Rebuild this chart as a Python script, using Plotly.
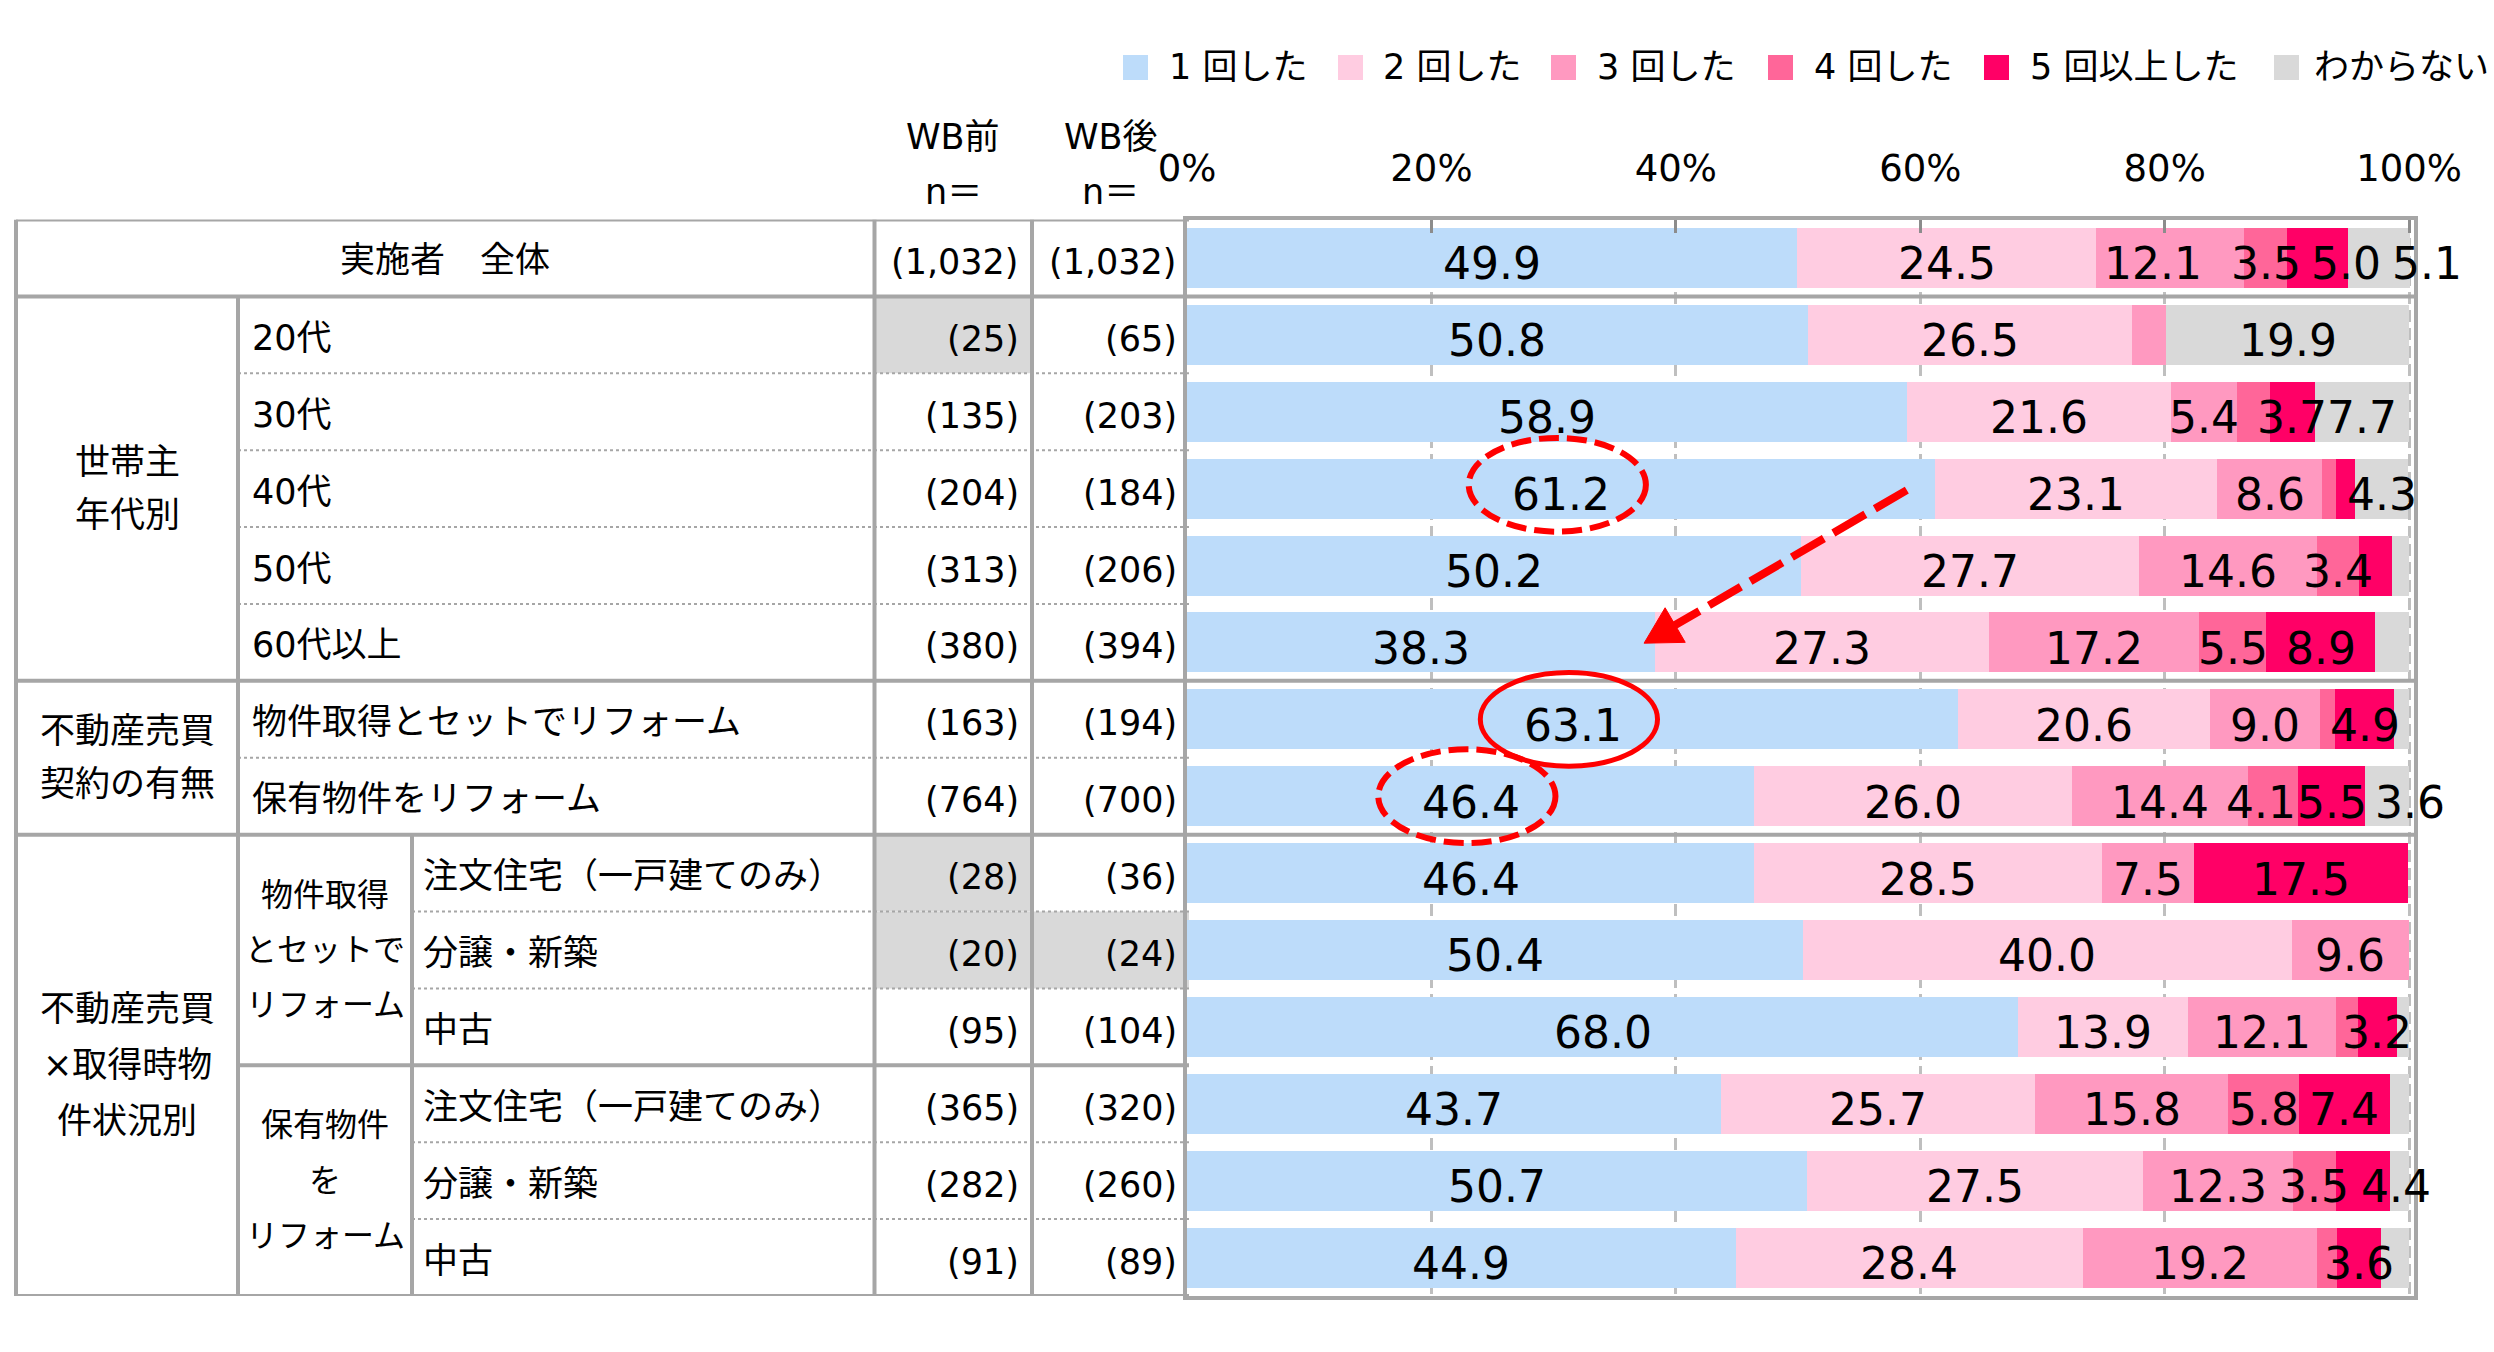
import math
import plotly.graph_objects as go

# ---------------- data ----------------
row_labels = ["実施者　全体", "20代", "30代", "40代", "50代", "60代以上",
              "物件取得とセットでリフォーム", "保有物件をリフォーム",
              "注文住宅（一戸建てのみ）", "分譲・新築", "中古",
              "注文住宅（一戸建てのみ）", "分譲・新築", "中古"]
n_before = ["(1,032)", "(25)", "(135)", "(204)", "(313)", "(380)", "(163)", "(764)",
            "(28)", "(20)", "(95)", "(365)", "(282)", "(91)"]
n_after = ["(1,032)", "(65)", "(203)", "(184)", "(206)", "(394)", "(194)", "(700)",
           "(36)", "(24)", "(104)", "(320)", "(260)", "(89)"]
small_n_before = [1, 8, 9]
small_n_after = [9]

series_names = ["1 回した", "2 回した", "3 回した", "4 回した", "5 回以上した", "わからない"]
once = [49.9, 50.8, 58.9, 61.2, 50.2, 38.3, 63.1, 46.4, 46.4, 50.4, 68.0, 43.7, 50.7, 44.9]
twice = [24.5, 26.5, 21.6, 23.1, 27.7, 27.3, 20.6, 26.0, 28.5, 40.0, 13.9, 25.7, 27.5, 28.4]
three = [12.1, 2.8, 5.4, 8.6, 14.6, 17.2, 9.0, 14.4, 7.5, 9.6, 12.1, 15.8, 12.3, 19.2]
four = [3.5, 0.0, 2.7, 1.1, 3.4, 5.5, 1.2, 4.1, 0.0, 0.0, 1.8, 5.8, 3.5, 1.6]
five_plus = [5.0, 0.0, 3.7, 1.6, 2.7, 8.9, 4.9, 5.5, 17.5, 0.0, 3.2, 7.4, 4.4, 3.6]
unknown = [5.1, 19.9, 7.7, 4.3, 1.4, 2.8, 1.2, 3.6, 0.0, 0.0, 1.0, 1.6, 1.6, 2.3]
series_values = [once, twice, three, four, five_plus, unknown]
tick_vals = [0, 20, 40, 60, 80, 100]
tick_text = ["0%", "20%", "40%", "60%", "80%", "100%"]

group_col1 = [(["世帯主", "年代別"], 1, 5), (["不動産売買", "契約の有無"], 6, 7),
              (["不動産売買", "×取得時物", "件状況別"], 8, 13)]
group_col2 = [(["物件取得", "とセットで", "リフォーム"], 8, 10), (["保有物件", "を", "リフォーム"], 11, 13)]

# ---------------- styles / layout constants ----------------
W, H = 2494, 1352
colors = ["#BDDCFA", "#FFCCE1", "#FF99C0", "#FF6699", "#FF0066", "#D9D9D9"]
FONT = "DejaVu Sans, Noto Sans CJK JP, sans-serif"
LINE = "#A6A6A6"
PX0, PX1 = 1187, 2414          # plot area in pixels (x)
PY0, PY1 = 219.5, 1296         # plot area in pixels (y)
XMAX = 100.4
NROWS = len(row_labels)
COL_X = [16, 238, 412, 874.5, 1032, 1189]
# pixel shifts for a few value labels (row, series) that sit off-centre in the original
label_shift_px = {(0, 2): -17, (0, 4): 29, (0, 5): 48, (7, 5): 23, (12, 4): 33, (7, 3): -12}


def X(px):
    return px / W


def Y(py):
    return 1 - py / H


def px_x(v):
    return PX0 + v * (PX1 - PX0) / XMAX


def px_y(r):
    return PY0 + (r + 0.5) * (PY1 - PY0) / NROWS


rows = list(range(NROWS))
fig = go.Figure()
for name, vals, col in zip(series_names, series_values, colors):
    fig.add_trace(go.Bar(y=rows, x=vals, orientation="h", name=name, width=0.78,
                         marker=dict(color=col, line=dict(width=0)),
                         hoverinfo="skip", showlegend=False))

shapes = []
ann = []

# gray cells for small sample sizes
for r in small_n_before:
    shapes.append(dict(type="rect", xref="paper", yref="y", x0=X(COL_X[3]), x1=X(COL_X[4]),
                       y0=r - 0.5, y1=r + 0.5, fillcolor="#D9D9D9", line=dict(width=0), layer="below"))
for r in small_n_after:
    shapes.append(dict(type="rect", xref="paper", yref="y", x0=X(COL_X[4]), x1=X(COL_X[5]),
                       y0=r - 0.5, y1=r + 0.5, fillcolor="#D9D9D9", line=dict(width=0), layer="below"))


def hline(k, xa, xb, width=4, dash="solid"):
    shapes.append(dict(type="line", xref="paper", yref="y", x0=X(xa), x1=X(xb), y0=k - 0.5, y1=k - 0.5,
                       line=dict(color=LINE, width=width, dash=dash), layer="above"))


def vline(px, ka, kb):
    shapes.append(dict(type="line", xref="paper", yref="y", x0=X(px), x1=X(px), y0=ka - 0.5, y1=kb - 0.5,
                       line=dict(color=LINE, width=4), layer="above"))


# dotted separators
for k in [2, 3, 4, 5, 7]:
    hline(k, COL_X[1], COL_X[5], width=2, dash="dot")
for k in [9, 10, 12, 13]:
    hline(k, COL_X[2], COL_X[5], width=2, dash="dot")
# solid group lines
hline(0, COL_X[0], COL_X[5])
hline(14, COL_X[0], COL_X[5])
for k in [1, 6, 8]:
    hline(k, COL_X[0], PX1)
hline(11, COL_X[1], COL_X[5])
vline(COL_X[0], 0, 14)
vline(COL_X[1], 1, 14)
vline(COL_X[2], 8, 14)
vline(COL_X[3], 0, 14)
vline(COL_X[4], 0, 14)

TF = dict(family=FONT, size=35, color="black")
TF2 = dict(family=FONT, size=32, color="black")

# row labels and n
for r, lab in enumerate(row_labels):
    if r == 0:
        ann.append(dict(x=X((COL_X[0] + COL_X[3]) / 2), y=r, xref="paper", yref="y", text=lab,
                        showarrow=False, xanchor="center", yanchor="middle", yshift=-2, font=TF))
    else:
        lx = 250 if r <= 7 else 421
        ann.append(dict(x=X(lx), y=r, xref="paper", yref="y", text=lab,
                        showarrow=False, xanchor="left", yanchor="middle", yshift=-3, font=TF))
    ann.append(dict(x=X(1021), y=r, xref="paper", yref="y", text=n_before[r],
                    showarrow=False, xanchor="right", yanchor="middle", yshift=-4, font=TF))
    ann.append(dict(x=X(1179), y=r, xref="paper", yref="y", text=n_after[r],
                    showarrow=False, xanchor="right", yanchor="middle", yshift=-4, font=TF))

for lines, a, b in group_col1:
    c = (a + b) / 2
    step = 0.69 if len(lines) == 2 else 0.73
    for i, t in enumerate(lines):
        ann.append(dict(x=X((COL_X[0] + COL_X[1]) / 2), y=c + (i - (len(lines) - 1) / 2) * step,
                        xref="paper", yref="y", text=t, showarrow=False,
                        xanchor="center", yanchor="middle", font=TF))
for lines, a, b in group_col2:
    c = (a + b) / 2
    for i, t in enumerate(lines):
        ann.append(dict(x=X((COL_X[1] + COL_X[2]) / 2), y=c + (i - 1) * 0.72,
                        xref="paper", yref="y", text=t, showarrow=False,
                        xanchor="center", yanchor="middle", font=TF2))

# header
for cx, t in [((COL_X[3] + COL_X[4]) / 2, "WB前"), ((COL_X[4] + COL_X[5]) / 2, "WB後")]:
    ann.append(dict(x=X(cx), y=Y(137), xref="paper", yref="paper", text=t, showarrow=False,
                    xanchor="center", yanchor="middle", font=TF))
    ann.append(dict(x=X(cx), y=Y(192), xref="paper", yref="paper", text="n＝", showarrow=False,
                    xanchor="center", yanchor="middle", font=TF))

# bar value labels
for r in rows:
    cum = 0.0
    for s, vals in enumerate(series_values):
        v = vals[r]
        if v >= 3.0:
            ann.append(dict(x=cum + v / 2, y=r, xref="x", yref="y",
                            text=f"{v:.1f}", showarrow=False, xanchor="center", yanchor="middle",
                            xshift=label_shift_px.get((r, s), 0), yshift=-6,
                            font=dict(family=FONT, size=44, color="black")))
        cum += v

# custom legend
leg_text_x = [1167, 1381, 1595, 1812, 2028, 2312]
leg_box_x = [1123, 1338, 1551, 1768, 1984, 2274]
LF = dict(family=FONT, size=35, color="black")
for name, col, tx, bx in zip(series_names, colors, leg_text_x, leg_box_x):
    shapes.append(dict(type="rect", xref="paper", yref="paper", x0=X(bx), x1=X(bx + 25),
                       y0=Y(80), y1=Y(55), fillcolor=col, line=dict(width=0)))
    ann.append(dict(x=X(tx), y=Y(67), xref="paper", yref="paper", text=name, showarrow=False,
                    xanchor="left", yanchor="middle", font=LF))

# highlight ellipses (around labels of the 1回 series)
RED = "#FF0000"
for r, dy, dash, w in [(3, -0.05, "20px,8px", 6), (6, 0.0, "solid", 5), (7, 0.0, "20px,8px", 6)]:
    cx = once[r] / 2 - 0.3
    shapes.append(dict(type="circle", xref="x", yref="y", x0=cx - 7.25, x1=cx + 7.25,
                       y0=r + dy - 0.61, y1=r + dy + 0.61, line=dict(color=RED, width=w, dash=dash),
                       layer="above"))

# dashed arrow from 40代 bar towards 60代以上 bar end
sx, sy = px_x(58.9), px_y(3.02)
tx_, ty_ = px_x(once[5] - 0.9), px_y(5.01)
L = math.hypot(tx_ - sx, ty_ - sy)
ux, uy = (tx_ - sx) / L, (ty_ - sy) / L
nx, ny = -uy, ux
HL, HW = 36, 20
bx_, by_ = tx_ - HL * ux, ty_ - HL * uy
shapes.append(dict(type="line", xref="paper", yref="paper", x0=X(sx), y0=Y(sy), x1=X(bx_ + 4 * ux), y1=Y(by_ + 4 * uy),
                   line=dict(color=RED, width=8, dash="37px,11px"), layer="above"))
path = (f"M{X(tx_)},{Y(ty_)} L{X(bx_ + HW * nx)},{Y(by_ + HW * ny)} "
        f"L{X(bx_ - HW * nx)},{Y(by_ - HW * ny)} Z")
shapes.append(dict(type="path", xref="paper", yref="paper", path=path, fillcolor=RED,
                   line=dict(color=RED, width=1), layer="above"))

fig.update_layout(
    template="none",
    width=W, height=H, autosize=False,
    margin=dict(l=0, r=0, t=0, b=0, pad=0, autoexpand=False),
    paper_bgcolor="white", plot_bgcolor="white", barmode="stack",
    font=dict(family=FONT, color="black"),
    xaxis=dict(domain=[X(PX0), X(PX1)], range=[0, XMAX], side="top", automargin=False,
               tickvals=tick_vals, ticktext=tick_text, tickfont=dict(size=37, color="black"),
               showgrid=True, gridcolor="#BFBFBF", gridwidth=3, griddash="12px,6px",
               zeroline=False, showline=True, linecolor=LINE, linewidth=4, mirror=True,
               ticks="inside", ticklen=13, tickwidth=3, tickcolor="#8C8C8C",
               ticklabelstandoff=20, fixedrange=True),
    yaxis=dict(domain=[Y(PY1), Y(PY0)], range=[NROWS - 0.5, -0.5], showticklabels=False,
               automargin=False, showgrid=False, zeroline=False, showline=True, linecolor=LINE,
               linewidth=4, mirror=True, ticks="", fixedrange=True),
    shapes=shapes, annotations=ann, showlegend=False,
)
fig.write_html("out.html")
